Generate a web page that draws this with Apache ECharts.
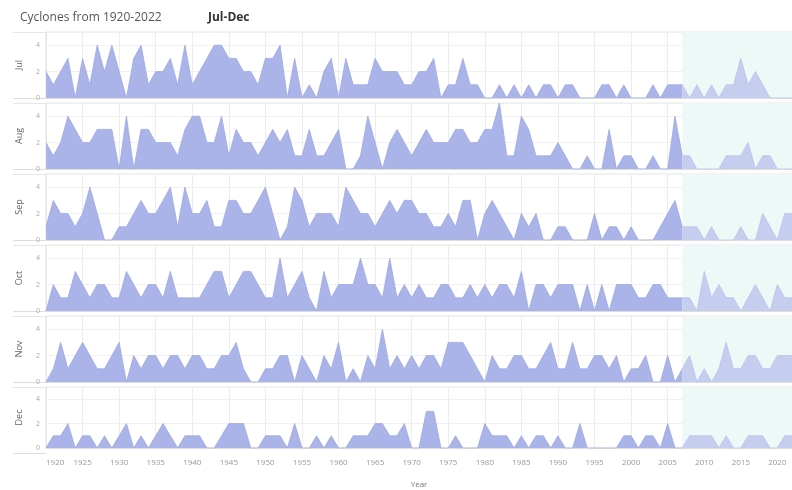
<!DOCTYPE html>
<html>
<head>
<meta charset="utf-8">
<script src="https://cdn.jsdelivr.net/npm/echarts@6/dist/echarts.min.js"></script>
<style>
html,body{margin:0;padding:0;background:#fff;}
#chart{width:792px;height:490px;}
</style>
</head>
<body>
<div id="chart"></div>
<script>
const startYear = 1920;
const endYear = 2022;
const splitYear = 2007;
const months = ['Jul', 'Aug', 'Sep', 'Oct', 'Nov', 'Dec'];
const yTicks = [0, 2, 4];

// values per year 1920..2022
const jul = [2,1,2,3,0,3,1,4,2,4, 2,0,3,4,1,2,2,3,1,4, 1,2,3,4,4,3,3,2,2,1, 3,3,4,0,3,0,1,0,2,3,
             0,3,1,1,1,3,2,2,2,1, 1,2,2,3,0,1,1,3,1,1, 0,0,1,0,1,0,1,0,1,1, 0,1,1,0,0,0,1,1,0,1,
             0,0,0,1,0,1,1,1,0,1, 0,1,0,1,1,3,1,2,1,0, 0,0,0];
const aug = [2,1,2,4,3,2,2,3,3,3, 0,4,0,3,3,2,2,2,1,3, 4,4,2,2,4,1,3,2,2,1, 2,3,2,3,1,1,3,1,1,2,
             3,0,0,1,4,2,0,2,3,2, 1,2,3,2,2,2,3,3,2,2, 3,3,5,1,1,4,3,1,1,1, 2,1,0,0,1,0,0,3,0,1,
             1,0,0,1,0,0,4,1,1,0, 0,0,0,1,1,1,2,0,1,1, 0,0,0];
const sep = [1,3,2,2,1,2,4,2,0,0, 1,1,2,3,2,2,3,4,1,4, 2,2,3,1,1,3,3,2,2,3, 4,2,0,1,4,3,1,2,2,2,
             1,4,3,2,2,1,2,3,2,3, 3,2,2,1,1,2,1,3,3,0, 2,3,2,1,0,2,1,2,0,0, 1,1,0,0,0,2,0,1,1,0,
             1,0,0,0,1,2,3,1,1,1, 0,1,0,0,0,1,0,0,2,1, 0,2,2];
const oct = [0,2,1,1,3,2,1,2,2,1, 1,3,2,1,2,2,1,3,1,1, 1,1,2,3,3,1,2,3,3,2, 1,1,4,1,2,3,1,0,3,1,
             2,2,2,4,2,2,1,4,1,2, 1,2,1,1,2,2,1,1,2,1, 2,1,2,2,1,3,0,2,2,1, 2,2,2,0,2,0,2,0,2,2,
             2,1,1,2,2,1,1,1,1,0, 3,1,2,1,1,0,1,2,1,0, 2,1,1];
const nov = [0,1,3,1,2,3,2,1,1,2, 3,0,2,1,2,2,1,2,2,1, 2,2,1,1,2,2,3,1,0,0, 1,1,2,2,0,2,1,0,2,1,
             3,0,1,0,2,1,4,1,2,1, 2,1,2,2,1,3,3,3,2,1, 0,2,1,1,2,2,1,1,2,3, 1,1,3,1,1,2,2,1,2,0,
             1,1,2,0,0,2,0,1,2,0, 1,0,1,3,1,1,2,2,1,1, 2,2,2];
const dec = [0,1,1,2,0,1,1,0,1,0, 1,2,0,1,0,1,2,1,0,1, 1,1,0,0,1,2,2,2,0,0, 1,1,1,0,2,0,0,1,0,1,
             0,0,1,1,1,2,2,1,1,2, 0,0,3,3,0,0,1,0,0,0, 2,1,1,1,0,1,0,1,1,0, 1,0,0,2,0,0,0,0,0,1,
             1,0,1,1,0,2,0,0,1,1, 1,1,0,1,0,0,1,1,1,0, 0,1,1];
const monthValues = [jul, aug, sep, oct, nov, dec];

const layout = { left: 46, width: 755, top0: 32, step: 71, height: 66, frameLeft: 13 };
const darkFill = '#aab4e8', darkLine = '#9ca8e2';
const lightFill = '#c6cef0', lightLine = '#b8c2ec';
const shade = '#eef8f6';

const grids = [], xAxes = [], yAxes = [], series = [], graphics = [];
months.forEach((m, i) => {
  const top = layout.top0 + layout.step * i;
  const isLast = i === months.length - 1;
  grids.push({ left: layout.left, width: layout.width, top: top, height: layout.height,
    show: true, borderColor: '#e6e6e6', borderWidth: 1 });
  xAxes.push({
    type: 'value', gridIndex: i, min: startYear, max: endYear, interval: 5,
    axisLine: { show: true, lineStyle: { color: '#dddddd' } },
    axisTick: { show: false },
    axisLabel: { show: isLast, fontSize: 8, color: '#999', fontFamily: 'Open Sans', margin: 11,
      formatter: v => String(v), showMaxLabel: false, alignMinLabel: 'left' },
    splitLine: { show: true, lineStyle: { color: '#ececec', width: 1 } },
    name: isLast ? 'Year' : '', nameLocation: 'middle', nameGap: 33,
    nameTextStyle: { fontSize: 8, color: '#777', fontFamily: 'Open Sans' }
  });
  yAxes.push({
    type: 'value', gridIndex: i, min: 0, max: 5, interval: 2,
    name: m, nameLocation: 'middle', nameGap: 22,
    nameTextStyle: { fontSize: 9, color: '#666', fontFamily: 'Open Sans' },
    axisLine: { show: true, lineStyle: { color: '#e3e3e3' } },
    axisTick: { show: false },
    axisLabel: { fontSize: 7, color: '#aaa', margin: 6, showMaxLabel: false,
      formatter: v => (yTicks.indexOf(v) >= 0 ? String(v) : '') },
    splitLine: { show: true, lineStyle: { color: '#f1f1f1' } }
  });
  const vals = monthValues[i];
  const dark = [], light = [];
  vals.forEach((v, k) => {
    const yr = startYear + k;
    if (yr <= splitYear) dark.push([yr, v]);
    if (yr >= splitYear) light.push([yr, v]);
  });
  series.push({
    type: 'line', xAxisIndex: i, yAxisIndex: i, data: dark, showSymbol: false, z: 3,
    lineStyle: { color: darkLine, width: 0.8 }, areaStyle: { color: darkFill, opacity: 1 },
    silent: true, animation: false
  });
  series.push({
    type: 'line', xAxisIndex: i, yAxisIndex: i, data: light, showSymbol: false, z: 3,
    lineStyle: { color: lightLine, width: 0.8 }, areaStyle: { color: lightFill, opacity: 1 },
    silent: true, animation: false,
    markArea: { silent: true, z: 1, itemStyle: { color: shade },
      data: [[{ xAxis: splitYear }, { xAxis: endYear }]] }
  });
  graphics.push({ type: 'line', shape: { x1: layout.frameLeft, y1: top + 0.5, x2: layout.left, y2: top + 0.5 },
    style: { stroke: '#e6e6e6', lineWidth: 1 }, silent: true });
  graphics.push({ type: 'line', shape: { x1: layout.frameLeft, y1: top + layout.height + 0.5, x2: layout.left, y2: top + layout.height + 0.5 },
    style: { stroke: '#dddddd', lineWidth: 1 }, silent: true });
});

const chart = echarts.init(document.getElementById('chart'), null, { renderer: 'canvas' });
chart.setOption({
  animation: false,
  backgroundColor: '#ffffff',
  textStyle: { fontFamily: 'Open Sans' },
  title: [
    { text: 'Cyclones from 1920-2022', left: 15, top: 7,
      textStyle: { fontSize: 12, fontWeight: 'normal', color: '#555', fontFamily: 'Open Sans' } },
    { text: 'Jul-Dec', left: 203, top: 7,
      textStyle: { fontSize: 12, fontWeight: 'bold', color: '#333', fontFamily: 'Open Sans' } }
  ],
  grid: grids,
  xAxis: xAxes,
  yAxis: yAxes,
  series: series,
  graphic: graphics
});
</script>
</body>
</html>
